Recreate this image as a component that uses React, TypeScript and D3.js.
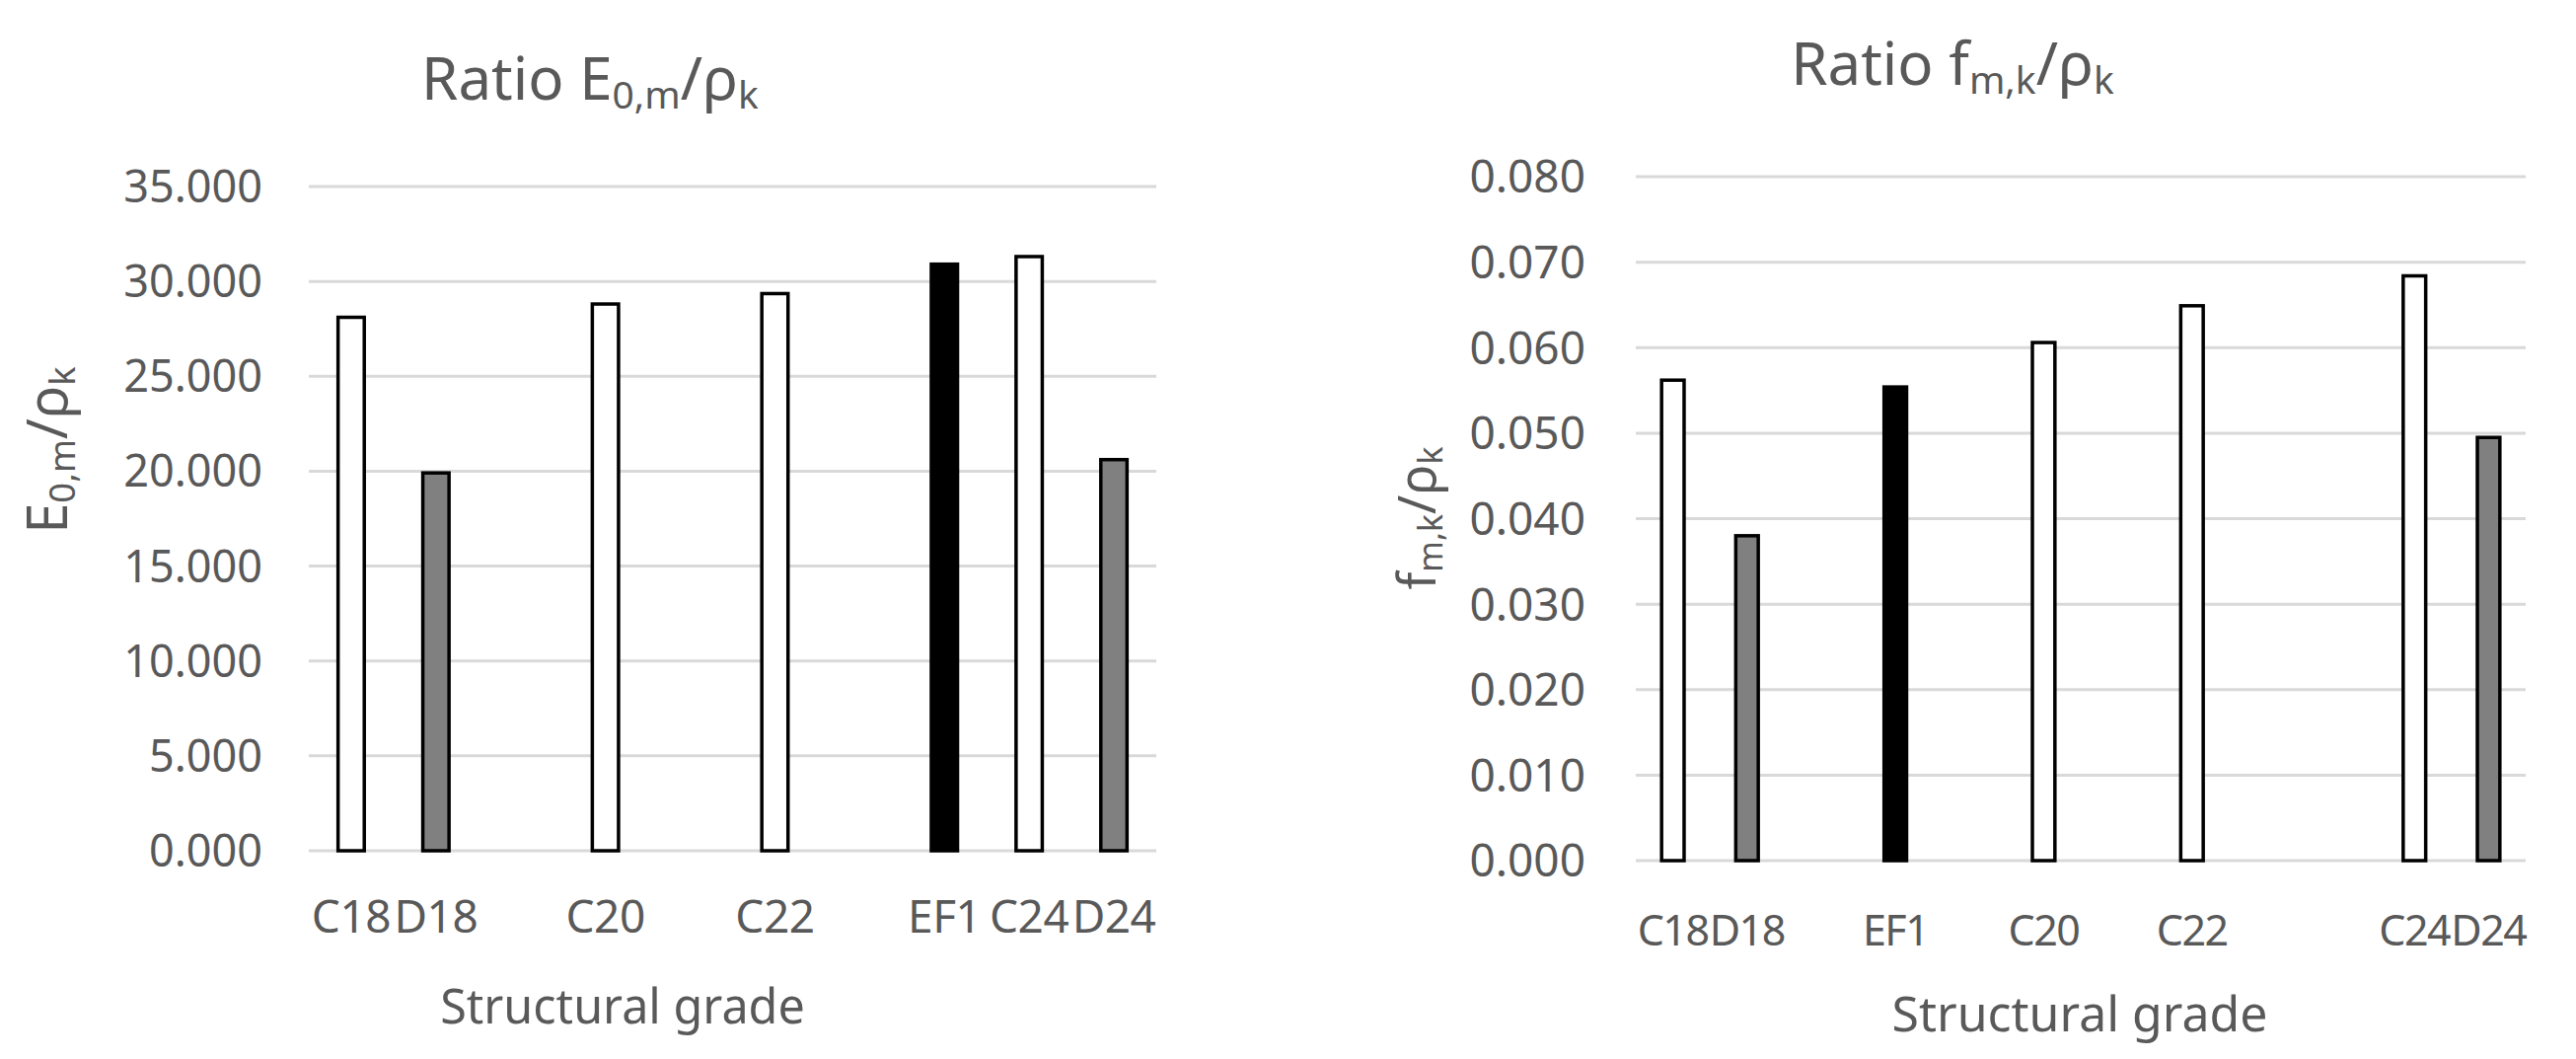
import React, { useEffect } from "react";
import * as d3 from "d3";

// ---------- data ----------
const leftCategories = ["C18", "D18", "", "C20", "", "C22", "", "EF1", "C24", "D24"];
const leftValues: (number | null)[] = [28.2, 20.0, null, 28.9, null, 29.45, null, 31.0, 31.4, 20.7];
const leftTicks = [0, 5, 10, 15, 20, 25, 30, 35];

const rightCategories = ["C18", "D18", "", "EF1", "", "C20", "", "C22", "", "", "C24", "D24"];
const rightValues: (number | null)[] = [0.0564, 0.0382, null, 0.0556, null, 0.0608, null, 0.0651, null, null, 0.0686, 0.0497];
const rightTicks = [0, 0.01, 0.02, 0.03, 0.04, 0.05, 0.06, 0.07, 0.08];

// ---------- styles ----------
const FONT = "'Noto Sans', 'Open Sans', sans-serif";
const TEXT = "#595959";
const GRID = "#d9d9d9";
const fillFor = (cat: string) => (cat.startsWith("EF") ? "#000000" : cat.startsWith("D") ? "#808080" : "#ffffff");

type ChartProps = {
  categories: string[];
  values: (number | null)[];
  ticks: number[];
  domainMax: number;
  x0: number;
  x1: number;
  yTop: number;
  yBottom: number;
  tickRight: number;
  tickSize: number;
  catBaseline: number;
  catSize: number;
  catSpacing: number;
  xTitleX: number;
  xTitleY: number;
  xTitleSize: number;
  title: React.ReactNode;
  titleX: number;
  titleY: number;
  yTitle: React.ReactNode;
  yTitleX: number;
  yTitleY: number;
  yTitleSize: number;
};

function Chart(p: ChartProps) {
  const x = d3.scaleBand<number>().domain(p.categories.map((_, i) => i)).range([p.x0, p.x1]).padding(0);
  const y = d3.scaleLinear().domain([0, p.domainMax]).range([p.yBottom, p.yTop]);
  const fmt = d3.format(".3f");
  const bw = x.bandwidth();
  const outerW = bw * 0.35;
  const sw = 3.5;
  return (
    <g>
      {p.ticks.map((t) => (
        <line key={"g" + t} x1={p.x0} x2={p.x1} y1={y(t)} y2={y(t)} stroke={GRID} strokeWidth={3} />
      ))}
      {p.ticks.map((t) => (
        <text
          key={"t" + t}
          x={p.tickRight}
          y={y(t) + p.tickSize * 0.357}
          textAnchor="end"
          fontSize={p.tickSize}
          fill={TEXT}
          fontFamily={FONT}
        >
          {fmt(t)}
        </text>
      ))}
      {p.values.map((v, i) => {
        if (v == null) return null;
        const cx = (x(i) as number) + bw / 2;
        const top = y(v) + sw / 2;
        return (
          <rect
            key={"b" + i}
            x={cx - outerW / 2 + sw / 2}
            y={top}
            width={outerW - sw}
            height={y(0) - top}
            fill={fillFor(p.categories[i])}
            stroke="#000"
            strokeWidth={sw}
          />
        );
      })}
      {p.categories.map((c, i) =>
        c ? (
          <text
            key={"c" + i}
            x={(x(i) as number) + bw / 2}
            y={p.catBaseline}
            textAnchor="middle"
            fontSize={p.catSize}
            letterSpacing={p.catSpacing}
            fill={TEXT}
            fontFamily={FONT}
          >
            {c}
          </text>
        ) : null
      )}
      <text x={p.xTitleX} y={p.xTitleY} textAnchor="middle" fontSize={p.xTitleSize} fill={TEXT} fontFamily={FONT}>
        Structural grade
      </text>
      <text x={p.titleX} y={p.titleY} textAnchor="middle" fontSize={60} fill={TEXT} fontFamily={FONT}>
        {p.title}
      </text>
      <text
        transform={`translate(${p.yTitleX},${p.yTitleY}) rotate(-90)`}
        textAnchor="middle"
        fontSize={p.yTitleSize}
        fill={TEXT}
        fontFamily={FONT}
      >
        {p.yTitle}
      </text>
    </g>
  );
}

export default function App() {
  useEffect(() => {
    document.body.style.margin = "0";
    document.body.style.overflow = "hidden";
  }, []);
  return (
    <svg width={2611} height={1073} style={{ position: "absolute", left: 0, top: 0, background: "#fff" }}>
      <rect x={0} y={0} width={2611} height={1073} fill="#fff" />
      <Chart
        categories={leftCategories}
        values={leftValues}
        ticks={leftTicks}
        domainMax={35}
        x0={313}
        x1={1172}
        yTop={189}
        yBottom={862}
        tickRight={266}
        tickSize={45}
        catBaseline={945}
        catSize={46}
        catSpacing={-0.5}
        xTitleX={631}
        xTitleY={1037}
        xTitleSize={48.5}
        title={
          <>
            <tspan>Ratio E</tspan>
            <tspan fontSize="0.65em" dy="0.22em">0,m</tspan>
            <tspan dy="-0.143em">/ρ</tspan>
            <tspan fontSize="0.65em" dy="0.22em">k</tspan>
          </>
        }
        titleX={598}
        titleY={101}
        yTitle={
          <>
            <tspan>E</tspan>
            <tspan fontSize="0.65em" dy="0.22em">0,m</tspan>
            <tspan dy="-0.143em">/ρ</tspan>
            <tspan fontSize="0.65em" dy="0.22em">k</tspan>
          </>
        }
        yTitleX={68}
        yTitleY={456}
        yTitleSize={56}
      />
      <Chart
        categories={rightCategories}
        values={rightValues}
        ticks={rightTicks}
        domainMax={0.08}
        x0={1658}
        x1={2560}
        yTop={179}
        yBottom={872}
        tickRight={1607}
        tickSize={46}
        catBaseline={958}
        catSize={43}
        catSpacing={-1.5}
        xTitleX={2108}
        xTitleY={1045}
        xTitleSize={50}
        title={
          <>
            <tspan>Ratio f</tspan>
            <tspan fontSize="0.65em" dy="0.22em">m,k</tspan>
            <tspan dy="-0.143em">/ρ</tspan>
            <tspan fontSize="0.65em" dy="0.22em">k</tspan>
          </>
        }
        titleX={1979}
        titleY={86}
        yTitle={
          <>
            <tspan>f</tspan>
            <tspan fontSize="0.65em" dy="0.22em">m,k</tspan>
            <tspan dy="-0.143em">/ρ</tspan>
            <tspan fontSize="0.65em" dy="0.22em">k</tspan>
          </>
        }
        yTitleX={1455}
        yTitleY={525}
        yTitleSize={52}
      />
    </svg>
  );
}
